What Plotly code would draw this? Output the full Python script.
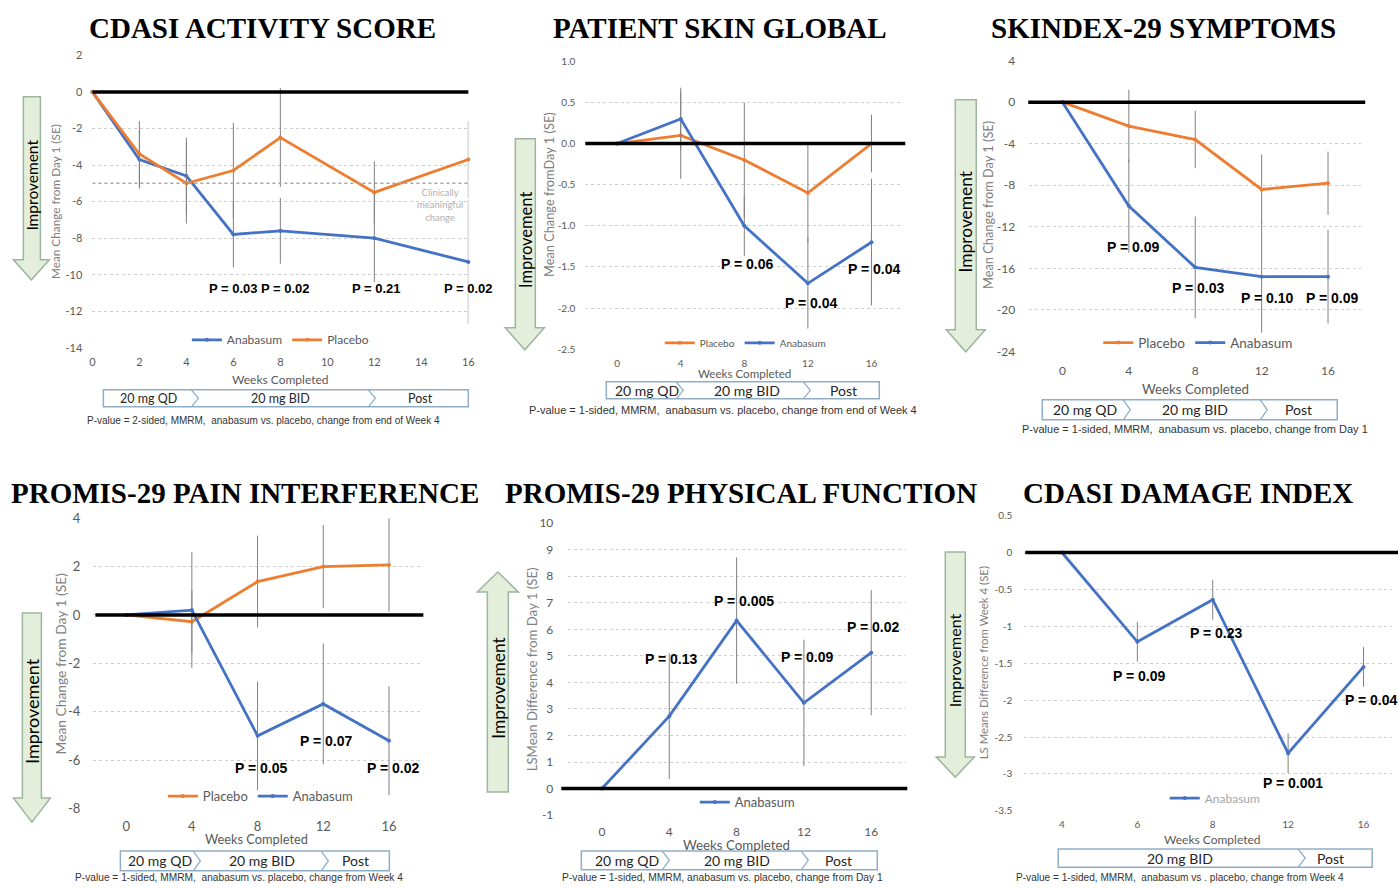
import plotly.graph_objects as go

W, H = 1398, 889
BLUE = "#4472C4"
ORANGE = "#ED7D31"
SANS = "Lato"
ARIAL = "Liberation Sans"
SERIF = "Liberation Serif"

# ---------------- DATA ----------------
# Panel 1: CDASI Activity Score
act_weeks = [0, 2, 4, 6, 8, 12, 16]
act_anabasum = [0, -3.7, -4.6, -7.8, -7.6, -8.0, -9.3]
act_anabasum_se = [0, 1.6, 2.1, 1.8, 1.8, 2.4, 3.4]
act_placebo = [0, -3.4, -5.0, -4.3, -2.5, -5.5, -3.7]
act_placebo_se = [0, 1.8, 2.2, 2.6, 2.7, 1.7, 2.1]
act_pvals = ["P = 0.03", "P = 0.02", "P = 0.21", "P = 0.02"]
act_yticks = [2, 0, -2, -4, -6, -8, -10, -12, -14]
act_yticktext = ["2", "0", "-2", "-4", "-6", "-8", "-10", "-12", "-14"]
act_xticks = [0, 2, 4, 6, 8, 10, 12, 14, 16]
act_mcid = -5

# Panel 2: Patient Skin Global
psg_weeks = [0, 4, 8, 12, 16]
psg_placebo = [0, 0.1, -0.2, -0.6, 0.0]
psg_placebo_se = [0, 0.53, 0.7, 0.6, 0.35]
psg_anabasum = [0, 0.3, -1.0, -1.7, -1.2]
psg_anabasum_se = [0, 0.38, 0.37, 0.55, 0.77]
psg_pvals = ["P = 0.06", "P = 0.04", "P = 0.04"]
psg_yticks = [1.0, 0.5, 0.0, -0.5, -1.0, -1.5, -2.0, -2.5]
psg_yticktext = ["1.0", "0.5", "0.0", "-0.5", "-1.0", "-1.5", "-2.0", "-2.5"]

# Panel 3: Skindex-29 Symptoms
sk_weeks = [0, 4, 8, 12, 16]
sk_placebo = [0, -2.3, -3.6, -8.4, -7.8]
sk_placebo_se = [0, 3.5, 2.75, 3.35, 3.05]
sk_anabasum = [0, -10.0, -15.9, -16.8, -16.8]
sk_anabasum_se = [0, 4.5, 4.9, 5.4, 4.5]
sk_pvals = ["P = 0.09", "P = 0.03", "P = 0.10", "P = 0.09"]
sk_yticks = [4, 0, -4, -8, -12, -16, -20, -24]
sk_yticktext = ["4", "0", "-4", "-8", "-12", "-16", "-20", "-24"]

# Panel 4: PROMIS-29 Pain Interference
pi_weeks = [0, 4, 8, 12, 16]
pi_placebo = [0, -0.28, 1.38, 2.0, 2.07]
pi_placebo_se = [0, 1.3, 1.9, 1.72, 1.93]
pi_anabasum = [0, 0.2, -5.0, -3.68, -5.2]
pi_anabasum_se = [0, 2.4, 2.25, 2.5, 2.25]
pi_pvals = ["P = 0.05", "P = 0.07", "P = 0.02"]
pi_yticks = [4, 2, 0, -2, -4, -6, -8]
pi_yticktext = ["4", "2", "0", "-2", "-4", "-6", "-8"]

# Panel 5: PROMIS-29 Physical Function
pf_weeks = [0, 4, 8, 12, 16]
pf_anabasum = [0, 2.73, 6.33, 3.23, 5.12]
pf_anabasum_se = [0, 2.37, 2.38, 2.38, 2.36]
pf_pvals = ["P = 0.13", "P = 0.005", "P = 0.09", "P = 0.02"]
pf_yticks = [10, 9, 8, 7, 6, 5, 4, 3, 2, 1, 0, -1]
pf_yticktext = ["10", "9", "8", "7", "6", "5", "4", "3", "2", "1", "0", "-1"]

# Panel 6: CDASI Damage Index
dmg_weeks = ["4", "6", "8", "12", "16"]
dmg_anabasum = [0, -1.21, -0.64, -2.72, -1.55]
dmg_anabasum_se = [0, 0.27, 0.27, 0.27, 0.27]
dmg_pvals = ["P = 0.09", "P = 0.23", "P = 0.001", "P = 0.04"]
dmg_yticks = [0.5, 0, -0.5, -1, -1.5, -2, -2.5, -3, -3.5]
dmg_yticktext = ["0.5", "0", "-0.5", "-1", "-1.5", "-2", "-2.5", "-3", "-3.5"]

titles = ["CDASI ACTIVITY SCORE", "PATIENT SKIN GLOBAL", "SKINDEX-29 SYMPTOMS",
          "PROMIS-29 PAIN INTERFERENCE", "PROMIS-29 PHYSICAL FUNCTION", "CDASI DAMAGE INDEX"]
ytitles = ["Mean Change from Day 1 (SE)", "Mean Change fromDay 1 (SE)", "Mean Change from Day 1 (SE)",
           "Mean Change from Day 1 (SE)", "LSMean Difference from Day 1 (SE)",
           "LS Means Difference from Week 4 (SE)"]
footnotes = [
    "P-value = 2-sided, MMRM,  anabasum vs. placebo, change from end of Week 4",
    "P-value = 1-sided, MMRM,  anabasum vs. placebo, change from end of Week 4",
    "P-value = 1-sided, MMRM,  anabasum vs. placebo, change from Day 1",
    "P-value = 1-sided, MMRM,  anabasum vs. placebo, change from Week 4",
    "P-value = 1-sided, MMRM, anabasum vs. placebo, change from Day 1",
    "P-value = 1-sided, MMRM,  anabasum vs . placebo, change from Week 4",
]
dose3 = ["20 mg QD", "20 mg BID", "Post"]
dose2 = ["20 mg BID", "Post"]

# ---------------- HELPERS ----------------
# small correction so that target pixel positions land where intended in the capture
SX, OX, SY, OY = 0.9937, 2.6, 0.9814, 8.4


def px(x):
    return ((x - OX) / SX) / W


def py(y):
    yi = min((y - OY) / SY, H - 4)
    return 1 - yi / H


fig = go.Figure()
layout = dict(width=W, height=H, margin=dict(l=0, r=0, t=0, b=0),
              paper_bgcolor="white", plot_bgcolor="white", showlegend=True)
shapes = []
annotations = []


def refs(i):
    return ("x", "y") if i == 1 else (f"x{i}", f"y{i}")


def add_axes(i, xpx, ypx, xrange, xtickvals, xticktext, yrange, ytickvals, yticktext,
             xstand, ystand, tfs=11):
    xr, yr = refs(i)
    xa = "xaxis" if i == 1 else f"xaxis{i}"
    ya = "yaxis" if i == 1 else f"yaxis{i}"
    d0, d1 = px(xpx[0]), px(xpx[1])
    r0, r1 = xrange
    if d1 > 1:
        r1 = r0 + (1 - d0) / (d1 - d0) * (r1 - r0)
        d1 = 1
    layout[xa] = dict(domain=[d0, d1], range=[r0, r1], anchor=yr,
                      showgrid=False, zeroline=False, showline=False, ticks="",
                      tickvals=xtickvals, ticktext=xticktext,
                      tickfont=dict(family=SANS, size=tfs, color="#595959"),
                      ticklabelstandoff=xstand, fixedrange=True)
    layout[ya] = dict(domain=[py(ypx[1]), py(ypx[0])], range=yrange, anchor=xr,
                      showgrid=True, gridcolor="#CFCFCF", gridwidth=1, griddash="dot",
                      zeroline=False, showline=False, ticks="",
                      tickvals=ytickvals, ticktext=yticktext,
                      tickfont=dict(family=SANS, size=tfs, color="#595959"),
                      ticklabelstandoff=ystand, fixedrange=True)


def add_series(i, x, y, se, name, color, legend):
    xr, yr = refs(i)
    fig.add_trace(go.Scatter(
        x=x, y=y, mode="lines+markers", name=name,
        line=dict(color=color, width=2.8), marker=dict(size=4, color=color),
        error_y=dict(type="data", array=se, visible=True, color="#808080",
                     thickness=1, width=0),
        xaxis=xr, yaxis=yr, legend=legend, cliponaxis=False))


def add_legend(name, cx, cy, fs, color="#595959"):
    layout[name] = dict(x=px(cx), y=py(cy), xanchor="center", yanchor="middle",
                        orientation="h", font=dict(family=SANS, size=fs, color=color),
                        bgcolor="rgba(0,0,0,0)", itemwidth=30, tracegroupgap=0,
                        itemclick=False, itemdoubleclick=False)


def zero_line(i, x0, x1):
    _, yr = refs(i)
    shapes.append(dict(type="line", xref="paper", yref=yr, x0=px(x0), x1=px(x1),
                       y0=0, y1=0, line=dict(color="black", width=3.5)))


def text(x, y, s, size, color="#262626", family=SANS, weight="normal", xanchor="center",
         angle=0, xref="paper", yref="paper"):
    if xref == "paper":
        x = px(x)
    if yref == "paper":
        y = py(y)
    annotations.append(dict(x=x, y=y, xref=xref, yref=yref, text=s, showarrow=False,
                            xanchor=xanchor, yanchor="middle", textangle=angle,
                            font=dict(family=family, size=size, color=color, weight=weight)))


def pval(i, x, y, s, size=14):
    xr, yr = refs(i)
    text(x, y, s, size, color="black", family=ARIAL, weight="bold", xref=xr, yref=yr)


def arrow(xl, xr, sl, sr, y_base, y_head, y_tip, ytext, fs, up=False):
    xc = (xl + xr) / 2
    if not up:
        pts = [(sl, y_base), (sr, y_base), (sr, y_head), (xr, y_head), (xc, y_tip),
               (xl, y_head), (sl, y_head)]
    else:
        pts = [(xc, y_tip), (xr, y_head), (sr, y_head), (sr, y_base), (sl, y_base),
               (sl, y_head), (xl, y_head)]
    path = "M " + " L ".join(f"{px(a):.5f},{py(b):.5f}" for a, b in pts) + " Z"
    shapes.append(dict(type="path", xref="paper", yref="paper", path=path,
                       fillcolor="#E4EFDB", line=dict(color="#9DB5A0", width=1.5)))
    text((sl + sr) / 2, ytext, "Improvement", fs, color="black", angle=-90)


def dose_bar(x0, x1, y0, y1, chev, labels, centers, fs=14):
    shapes.append(dict(type="rect", xref="paper", yref="paper", x0=px(x0), x1=px(x1),
                       y0=py(y1), y1=py(y0), fillcolor="white",
                       line=dict(color="#8FAEC6", width=1.5)))
    ym = (y0 + y1) / 2
    for c in chev:
        path = (f"M {px(c - 7):.5f},{py(y0):.5f} L {px(c):.5f},{py(ym):.5f} "
                f"L {px(c - 7):.5f},{py(y1):.5f}")
        shapes.append(dict(type="path", xref="paper", yref="paper", path=path,
                           line=dict(color="#8FAEC6", width=1.3)))
    for s, c in zip(labels, centers):
        text(c, ym, s, fs, color="#262626")


# ---------------- PANEL 1 ----------------
add_axes(1, (92, 468), (55.7, 348), [0, 16], act_xticks, [str(v) for v in act_xticks],
         [-14, 2], act_yticks, act_yticktext, 6, 9)
add_series(1, act_weeks, act_anabasum, act_anabasum_se, "Anabasum", BLUE, "legend")
add_series(1, act_weeks, act_placebo, act_placebo_se, "Placebo", ORANGE, "legend")
add_legend("legend", 280, 340, 12)
zero_line(1, 92, 468)
shapes.append(dict(type="line", xref="x", yref="y", x0=0, x1=16, y0=act_mcid, y1=act_mcid,
                   line=dict(color="#A6A6A6", width=1.5, dash="dot")))
text(465, 205, "Clinically<br>meaningful<br>change", 9.5, color="#B0B0B0", xanchor="right")
for s, xv in zip(act_pvals, [6.0, 8.2, 12.1, 16.0]):
    pval(1, xv, -10.76, s, 13)

# ---------------- PANEL 2 ----------------
add_axes(2, (585, 903), (61.7, 349.3), [-2, 18], psg_weeks, [str(v) for v in psg_weeks],
         [-2.5, 1.0], psg_yticks, psg_yticktext, 7, 9, 10)
add_series(2, psg_weeks, psg_placebo, psg_placebo_se, "Placebo", ORANGE, "legend2")
add_series(2, psg_weeks, psg_anabasum, psg_anabasum_se, "Anabasum", BLUE, "legend2")
add_legend("legend2", 745, 343, 10)
zero_line(2, 585, 905)
for s, (xv, yv) in zip(psg_pvals, [(8.2, -1.47), (12.2, -1.94), (16.2, -1.53)]):
    pval(2, xv, yv, s)

# ---------------- PANEL 3 ----------------
add_axes(3, (1029, 1361), (61, 351.7), [-2, 18], sk_weeks, [str(v) for v in sk_weeks],
         [-24, 4], sk_yticks, sk_yticktext, 10, 13, 12)
add_series(3, sk_weeks, sk_placebo, sk_placebo_se, "Placebo", ORANGE, "legend3")
add_series(3, sk_weeks, sk_anabasum, sk_anabasum_se, "Anabasum", BLUE, "legend3")
add_legend("legend3", 1198, 343, 13.5)
zero_line(3, 1028, 1365)
for s, (xv, yv) in zip(sk_pvals, [(4.27, -13.9), (8.19, -17.87), (12.35, -18.83), (16.27, -18.83)]):
    pval(3, xv, yv, s)

# ---------------- PANEL 4 ----------------
add_axes(4, (92.9, 421.5), (518.3, 808.3), [-2, 18], pi_weeks, [str(v) for v in pi_weeks],
         [-8, 4], pi_yticks, pi_yticktext, 9, 12, 13)
add_series(4, pi_weeks, pi_placebo, pi_placebo_se, "Placebo", ORANGE, "legend4")
add_series(4, pi_weeks, pi_anabasum, pi_anabasum_se, "Anabasum", BLUE, "legend4")
add_legend("legend4", 260, 796, 13)
zero_line(4, 95, 423)
for s, (xv, yv) in zip(pi_pvals, [(8.22, -6.32), (12.2, -5.2), (16.27, -6.32)]):
    pval(4, xv, yv, s)

# ---------------- PANEL 5 ----------------
add_axes(5, (568, 904.6), (523.3, 815), [-2, 18], pf_weeks, [str(v) for v in pf_weeks],
         [-1, 10], pf_yticks, pf_yticktext, 8, 14, 12)
add_series(5, pf_weeks, pf_anabasum, pf_anabasum_se, "Anabasum", BLUE, "legend5")
add_legend("legend5", 747, 802, 13)
zero_line(5, 561, 907)
for s, (xv, yv) in zip(pf_pvals, [(4.16, 4.88), (8.42, 7.08), (12.23, 4.97), (16.15, 6.1)]):
    pval(5, xv, yv, s)

# ---------------- PANEL 6 ----------------
dmg_pos = list(range(len(dmg_weeks)))
add_axes(6, (1024, 1401), (515.7, 810.7), [-0.5, 4.5], dmg_pos, dmg_weeks,
         [-3.5, 0.5], dmg_yticks, dmg_yticktext, 6, 11, 10)
add_series(6, dmg_pos, dmg_anabasum, dmg_anabasum_se, "Anabasum", BLUE, "legend6")
add_legend("legend6", 1215, 798, 12, color="#A6A6A6")
zero_line(6, 1025, 1401)
for s, (xv, yv) in zip(dmg_pvals, [(1.03, -1.68), (2.05, -1.09), (3.06, -3.13), (4.11, -2.0)]):
    pval(6, xv, yv, s)

# ---------------- TITLES & DECORATIONS ----------------
for s, (cx, cy) in zip(titles, [(262, 28), (720, 28), (1163, 28), (245, 493), (741, 493), (1188, 493)]):
    text(cx, cy, s, 29, color="black", family=SERIF, weight="bold")

for s, (cx, cy), fs in zip(ytitles, [(55, 202), (548, 195), (987, 205), (60, 663), (532, 669), (983, 663)],
                           [11.8, 12.8, 12.8, 13.8, 13.2, 11.4]):
    text(cx, cy, s, fs, color="#808080", angle=-90)

for (cx, cy), fs in zip([(280, 380), (744, 374), (1195, 389), (256, 839), (736, 845), (1212, 839)],
                        [12, 11.6, 13.3, 12.8, 13.3, 12]):
    text(cx, cy, "Weeks Completed", fs, color="#595959")

for s, (cx, cy), fs in zip(footnotes, [(263, 421), (723, 410), (1195, 429), (239, 883), (722, 886), (1180, 883)],
                           [10, 11, 11, 10.2, 10.3, 10.1]):
    text(cx, cy, s, fs, color="#333333", family=ARIAL)

arrow(13, 49, 23, 40, 97, 260, 280, 185, 15.5)
arrow(505, 544, 515, 535, 139, 328, 350, 240, 16.5)
arrow(946, 985, 955, 976, 100, 330, 352, 222, 17.4)
arrow(13, 50, 22, 41, 613, 798, 822, 711, 18)
arrow(477, 518, 487, 508, 792, 592, 572, 688, 17.4, up=True)
arrow(936, 974, 945, 965, 552, 757, 777, 660, 16)

dose_bar(103, 468, 390, 407, [198, 375], dose3, [148, 280, 420], 12.5)
dose_bar(606, 879, 382, 399, [683, 810], dose3, [647, 747, 843])
dose_bar(1042, 1337, 400, 420, [1130, 1267], dose3, [1085, 1195, 1298])
dose_bar(120, 389, 851, 870.5, [200, 328], dose3, [160, 262, 355])
dose_bar(581, 877, 851, 869.5, [669, 808], dose3, [627, 737, 838])
dose_bar(1058, 1372, 849, 867, [1305], dose2, [1180, 1330])

layout["shapes"] = shapes
layout["annotations"] = annotations
fig.update_layout(**layout)

PIN = ("var d=document.getElementById('{plot_id}');"
       "document.documentElement.style.margin='0';document.documentElement.style.padding='0';"
       "document.documentElement.style.overflow='hidden';"
       "document.body.style.margin='0';document.body.style.padding='0';"
       "document.body.style.overflow='hidden';"
       "d.style.position='fixed';d.style.left='0px';d.style.top='0px';")
fig.write_html("out.html", config={"displayModeBar": False}, post_script=PIN)
